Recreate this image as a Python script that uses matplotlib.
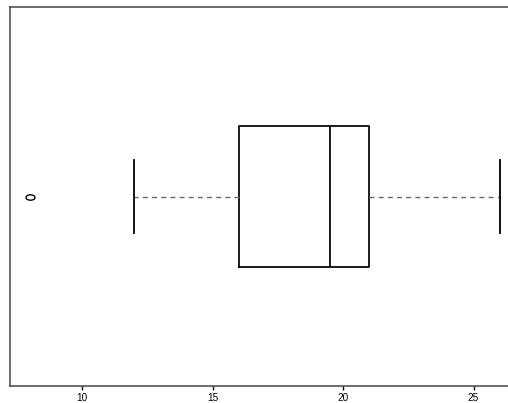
import matplotlib
matplotlib.use("Agg")
import matplotlib.pyplot as plt
from matplotlib.path import Path
from matplotlib.transforms import Affine2D

# five-number summary
q1 = 16
median = 19.5
q3 = 21
whisker_low = 12
whisker_high = 26
outliers = [8]
ticks = [10, 15, 20, 25]

plt.rcParams['font.family'] = ['Liberation Sans', 'DejaVu Sans']

# the outlier symbol in the reference is a slightly flattened ring
oval = Path.unit_circle().transformed(Affine2D().scale(1.0, 0.6))

fig = plt.figure(figsize=(5.08, 4.03), dpi=100)
# right side of the frame falls outside the image, as in the reference
ax = fig.add_axes([10 / 508, 17 / 403, 511 / 508, 379 / 403])

stats = [{
    "med": median, "q1": q1, "q3": q3,
    "whislo": whisker_low, "whishi": whisker_high,
    "fliers": outliers,
}]
ax.bxp(stats, positions=[1], widths=0.37, vert=False,
       boxprops=dict(color="black", linewidth=1.25),
       medianprops=dict(color="black", linewidth=1.25),
       whiskerprops=dict(color="#6a6a6a", linewidth=1.0, linestyle=(0, (3.6, 3.0))),
       capprops=dict(color="black", linewidth=1.3),
       capwidths=0.19,
       flierprops=dict(marker=oval, markersize=6.5, markerfacecolor="none",
                       markeredgecolor="black", markeredgewidth=1.0))

ax.set_ylim(0.5, 1.5)
ax.set_xlim(7.24, 26.82)
ax.set_yticks([])
ax.set_xticks(ticks)
ax.set_xticklabels([str(t) for t in ticks])
ax.tick_params(axis="x", length=3, width=1, pad=2, labelsize=7.2, colors="black")
for s in ax.spines.values():
    s.set_color("#444444")
    s.set_linewidth(1.1)

fig.savefig("out.png", dpi=100)
